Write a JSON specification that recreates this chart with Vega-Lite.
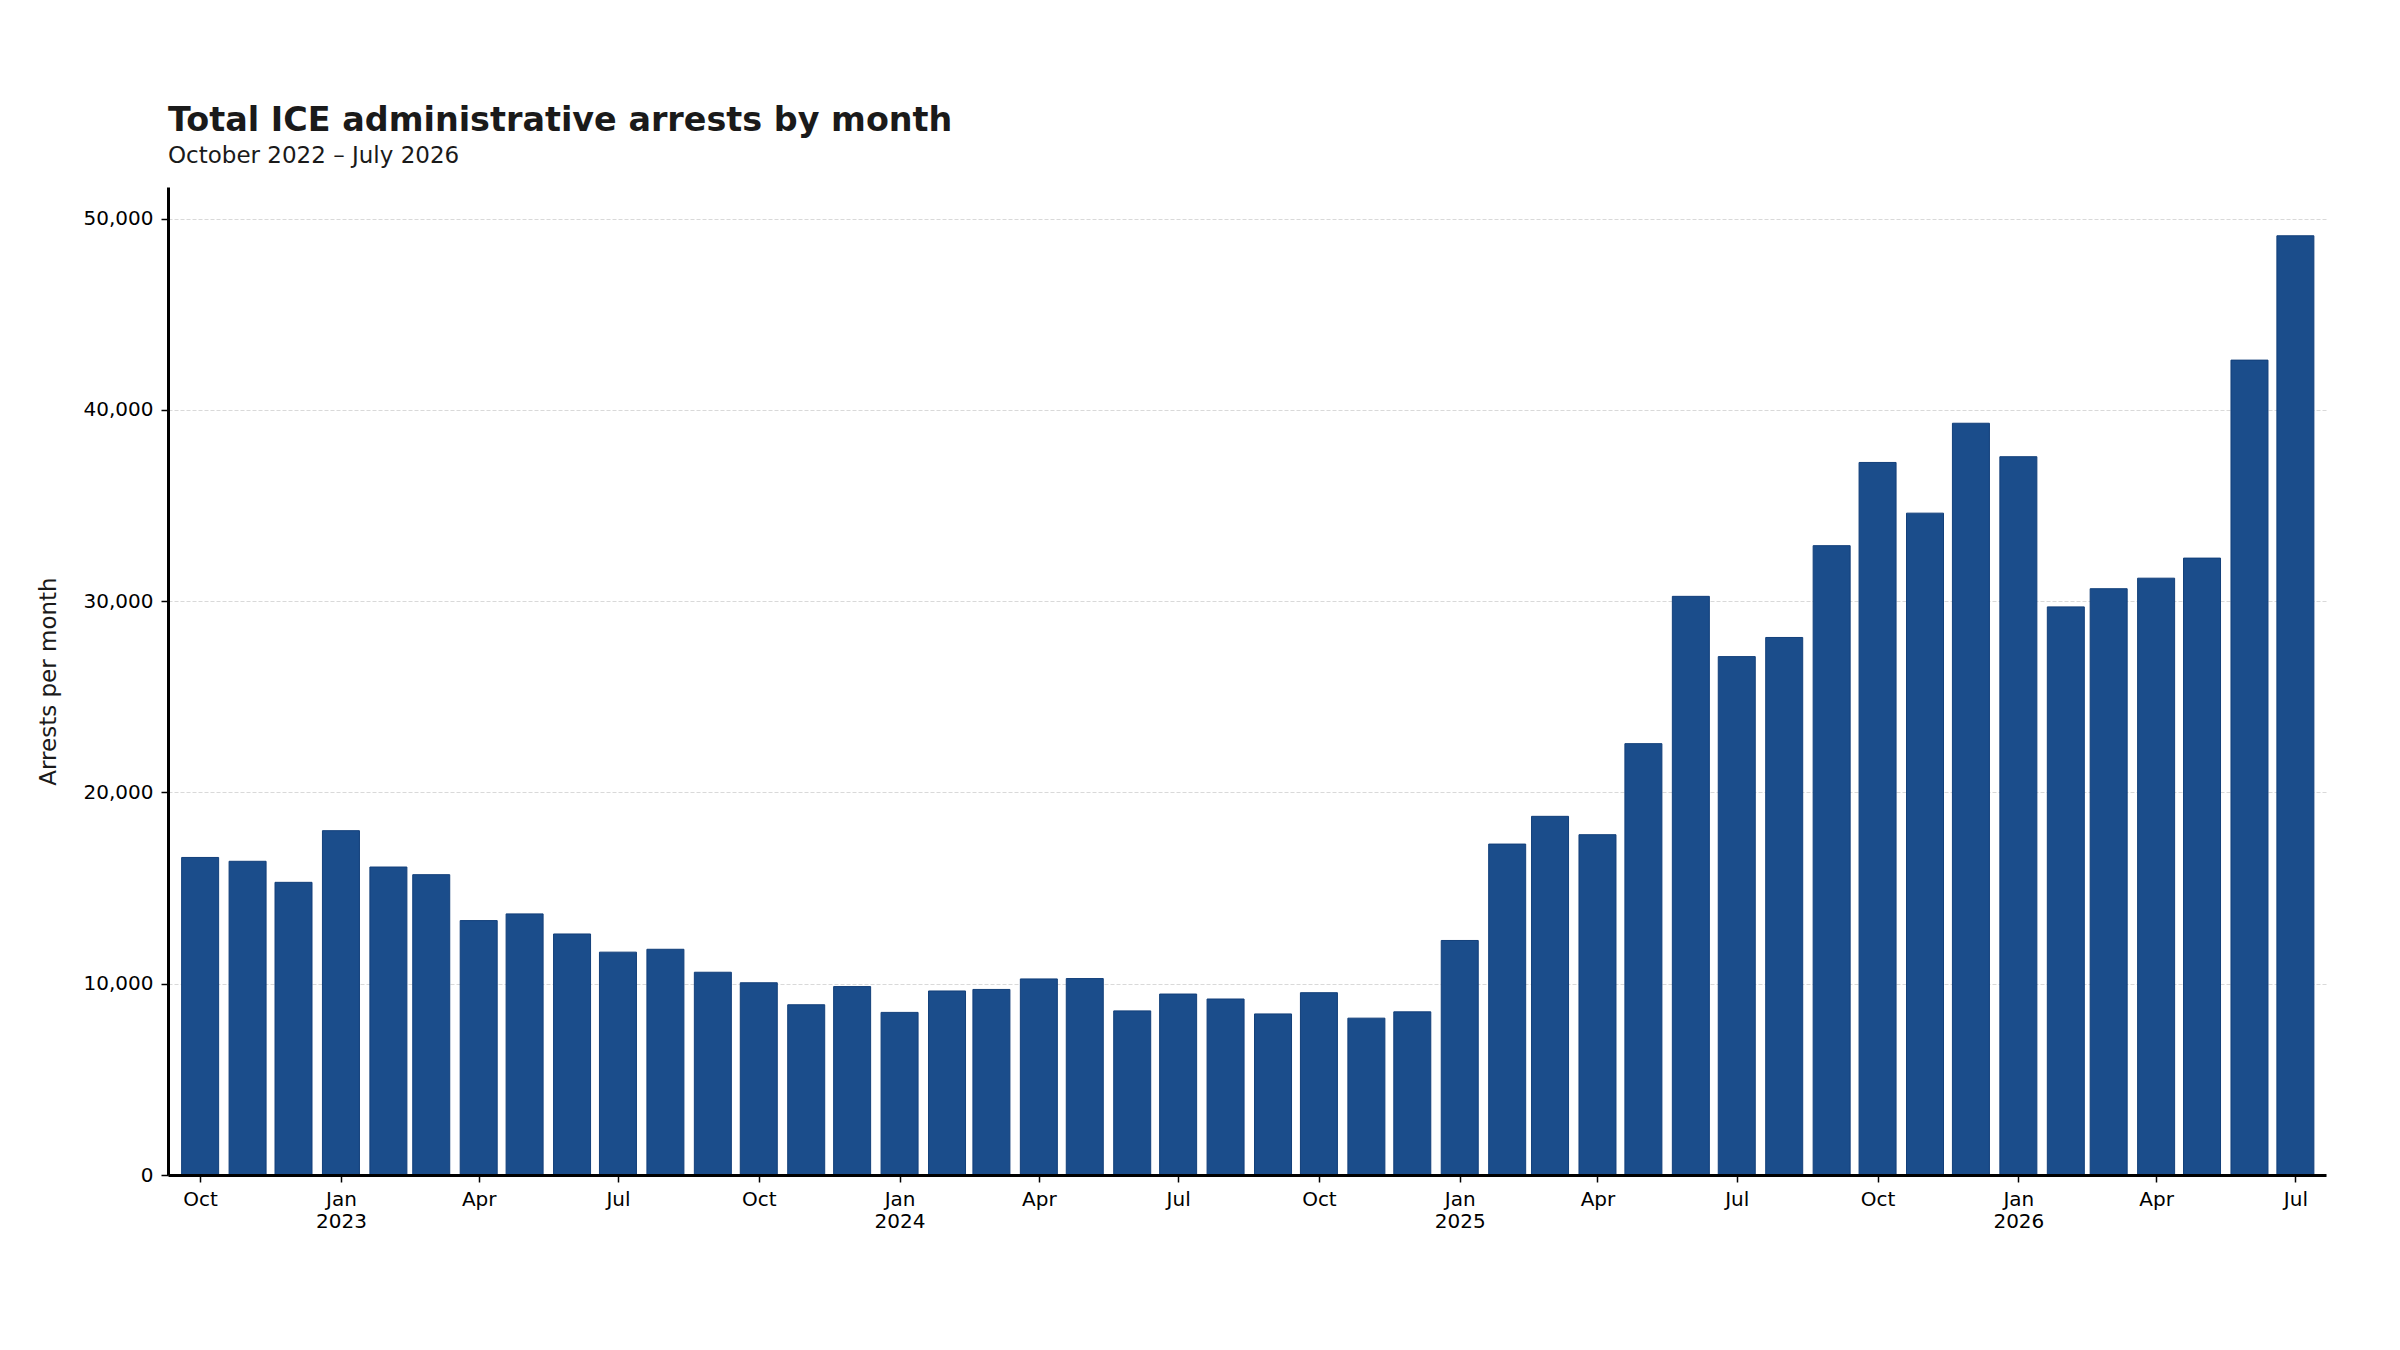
{
  "$schema": "https://vega.github.io/schema/vega-lite/v6.json",
  "width": 2158,
  "height": 988,
  "autosize": "none",
  "padding": {"left": 168, "top": 187, "right": 74, "bottom": 175},
  "background": "white",
  "config": {"view": {"stroke": null}, "font": "DejaVu Sans"},
  "title": {
    "text": "Total ICE administrative arrests by month",
    "subtitle": "October 2022 – July 2026",
    "anchor": "start",
    "frame": "group",
    "font": "DejaVu Sans",
    "fontSize": 33.4,
    "fontWeight": "bold",
    "color": "#1a1a1a",
    "subtitleFont": "DejaVu Sans",
    "subtitleFontSize": 23,
    "subtitleColor": "#1a1a1a",
    "subtitlePadding": 7,
    "offset": 18
  },
  "data": {
    "values": [
      {"month": "2022-10-01", "arrests": 16600},
      {"month": "2022-11-01", "arrests": 16400},
      {"month": "2022-12-01", "arrests": 15300},
      {"month": "2023-01-01", "arrests": 18000},
      {"month": "2023-02-01", "arrests": 16100},
      {"month": "2023-03-01", "arrests": 15700},
      {"month": "2023-04-01", "arrests": 13300},
      {"month": "2023-05-01", "arrests": 13650},
      {"month": "2023-06-01", "arrests": 12600},
      {"month": "2023-07-01", "arrests": 11650},
      {"month": "2023-08-01", "arrests": 11800},
      {"month": "2023-09-01", "arrests": 10600},
      {"month": "2023-10-01", "arrests": 10050},
      {"month": "2023-11-01", "arrests": 8900},
      {"month": "2023-12-01", "arrests": 9850},
      {"month": "2024-01-01", "arrests": 8500},
      {"month": "2024-02-01", "arrests": 9620},
      {"month": "2024-03-01", "arrests": 9700},
      {"month": "2024-04-01", "arrests": 10250},
      {"month": "2024-05-01", "arrests": 10270},
      {"month": "2024-06-01", "arrests": 8580},
      {"month": "2024-07-01", "arrests": 9460},
      {"month": "2024-08-01", "arrests": 9200},
      {"month": "2024-09-01", "arrests": 8420},
      {"month": "2024-10-01", "arrests": 9530},
      {"month": "2024-11-01", "arrests": 8200},
      {"month": "2024-12-01", "arrests": 8530},
      {"month": "2025-01-01", "arrests": 12260},
      {"month": "2025-02-01", "arrests": 17300},
      {"month": "2025-03-01", "arrests": 18750},
      {"month": "2025-04-01", "arrests": 17790},
      {"month": "2025-05-01", "arrests": 22550},
      {"month": "2025-06-01", "arrests": 30250},
      {"month": "2025-07-01", "arrests": 27100},
      {"month": "2025-08-01", "arrests": 28100},
      {"month": "2025-09-01", "arrests": 32900},
      {"month": "2025-10-01", "arrests": 37250},
      {"month": "2025-11-01", "arrests": 34600},
      {"month": "2025-12-01", "arrests": 39300},
      {"month": "2026-01-01", "arrests": 37550},
      {"month": "2026-02-01", "arrests": 29700},
      {"month": "2026-03-01", "arrests": 30650},
      {"month": "2026-04-01", "arrests": 31200},
      {"month": "2026-05-01", "arrests": 32250},
      {"month": "2026-06-01", "arrests": 42600},
      {"month": "2026-07-01", "arrests": 49100}
    ]
  },
  "mark": {"type": "bar", "width": 37, "color": "#1b4d8b", "stroke": "#123f7a", "strokeWidth": 1},
  "encoding": {
    "x": {
      "field": "month",
      "type": "temporal",
      "scale": {
        "type": "utc",
        "padding": 0,
        "domain": [
          {"year": 2022, "month": 9, "date": 10, "utc": true},
          {"year": 2026, "month": 7, "date": 21, "utc": true}
        ]
      },
      "axis": {
        "title": null,
        "grid": false,
        "zindex": 1,
        "values": [
          {"year": 2022, "month": 10, "date": 1, "utc": true},
          {"year": 2023, "month": 1, "date": 1, "utc": true},
          {"year": 2023, "month": 4, "date": 1, "utc": true},
          {"year": 2023, "month": 7, "date": 1, "utc": true},
          {"year": 2023, "month": 10, "date": 1, "utc": true},
          {"year": 2024, "month": 1, "date": 1, "utc": true},
          {"year": 2024, "month": 4, "date": 1, "utc": true},
          {"year": 2024, "month": 7, "date": 1, "utc": true},
          {"year": 2024, "month": 10, "date": 1, "utc": true},
          {"year": 2025, "month": 1, "date": 1, "utc": true},
          {"year": 2025, "month": 4, "date": 1, "utc": true},
          {"year": 2025, "month": 7, "date": 1, "utc": true},
          {"year": 2025, "month": 10, "date": 1, "utc": true},
          {"year": 2026, "month": 1, "date": 1, "utc": true},
          {"year": 2026, "month": 4, "date": 1, "utc": true},
          {"year": 2026, "month": 7, "date": 1, "utc": true}
        ],
        "labelExpr": "utcFormat(datum.value, '%m') == '01' ? [utcFormat(datum.value, '%b'), utcFormat(datum.value, '%Y')] : utcFormat(datum.value, '%b')",
        "labelFont": "DejaVu Sans",
        "labelFontSize": 20,
        "labelColor": "#000000",
        "labelLineHeight": 22,
        "labelPadding": 7,
        "labelFlush": false,
        "labelOverlap": false,
        "domainColor": "#000000",
        "domainWidth": 3,
        "tickColor": "#000000",
        "tickSize": 7,
        "tickWidth": 1.5
      }
    },
    "y": {
      "field": "arrests",
      "type": "quantitative",
      "scale": {"domain": [0, 51650], "nice": false},
      "axis": {
        "title": "Arrests per month",
        "titleFont": "DejaVu Sans",
        "titleFontSize": 23,
        "titleFontWeight": "normal",
        "titleColor": "#1a1a1a",
        "titlePadding": 23,
        "values": [0, 10000, 20000, 30000, 40000, 50000],
        "format": ",d",
        "labelFont": "DejaVu Sans",
        "labelFontSize": 20,
        "labelColor": "#000000",
        "labelPadding": 8,
        "grid": true,
        "gridColor": "#d9d9d9",
        "gridDash": [4, 2],
        "gridWidth": 1,
        "domainColor": "#000000",
        "domainWidth": 3,
        "tickColor": "#000000",
        "tickSize": 7,
        "tickWidth": 1.5
      }
    }
  }
}
